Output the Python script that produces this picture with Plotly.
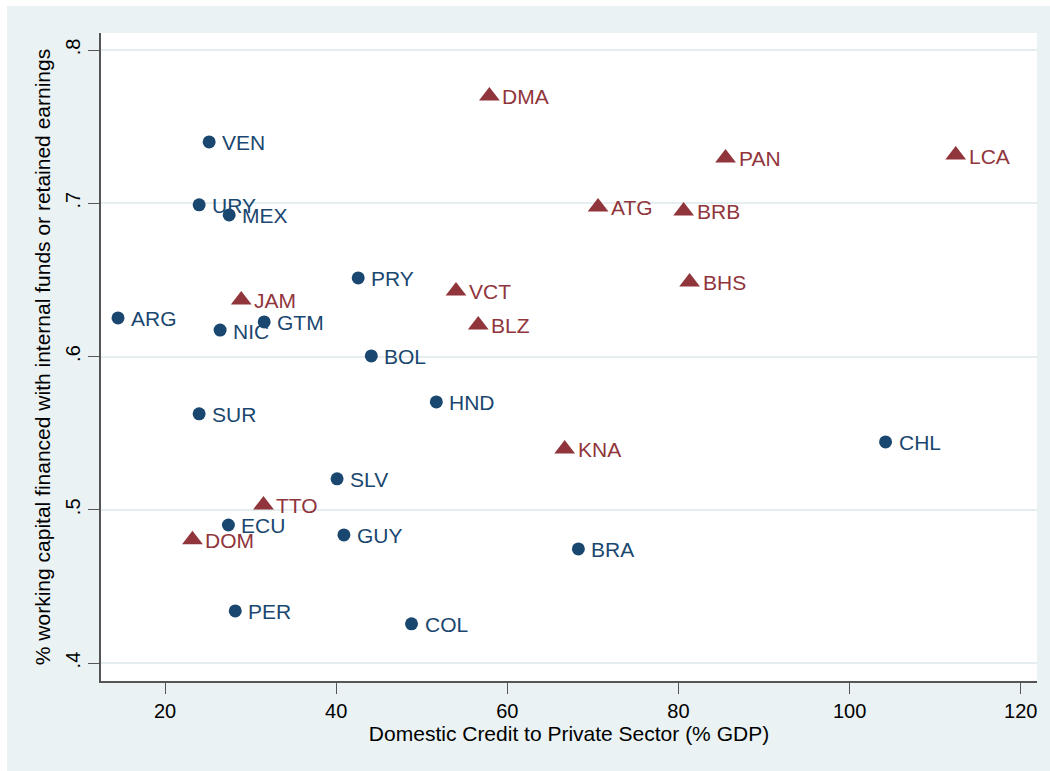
import plotly.graph_objects as go

# Blue group (circles)
blue_codes = ["VEN", "URY", "MEX", "ARG", "NIC", "GTM", "PRY", "BOL", "SUR",
              "HND", "CHL", "SLV", "ECU", "GUY", "BRA", "PER", "COL"]
blue_x = [25.15, 23.98, 27.49, 14.5, 26.43, 31.58, 42.57, 44.1, 23.98,
          51.7, 104.2, 40.1, 27.4, 40.9, 68.3, 28.2, 48.8]
blue_y = [0.740, 0.699, 0.6924, 0.6252, 0.6173, 0.6226, 0.6513, 0.6004, 0.5626,
          0.5704, 0.5443, 0.5202, 0.4901, 0.4836, 0.4745, 0.434, 0.4256]

# Red group (triangles)
red_codes = ["DMA", "PAN", "LCA", "ATG", "BRB", "BHS", "VCT", "BLZ", "JAM",
             "KNA", "TTO", "DOM"]
red_x = [57.9, 85.5, 112.4, 70.6, 80.6, 81.3, 54.0, 56.6, 28.9,
         66.7, 31.5, 23.2]
red_y = [0.7700, 0.7296, 0.7315, 0.6976, 0.6950, 0.6487, 0.6428, 0.6206, 0.6369,
         0.5397, 0.5032, 0.4804]

x_ticks = [20, 40, 60, 80, 100, 120]
y_ticks = [0.4, 0.5, 0.6, 0.7, 0.8]
y_tick_labels = [".4", ".5", ".6", ".7", ".8"]

x_title = "Domestic Credit to Private Sector (% GDP)"
y_title = "% working capital financed with internal funds or retained earnings"

BLUE = "#1a476f"
RED = "#90353b"
BG = "#eaf2f3"
FONT = "Liberation Sans, Arial, sans-serif"

fig = go.Figure()
fig.add_trace(go.Scatter(x=blue_x, y=blue_y, mode="markers",
                         marker=dict(symbol="circle", size=13, color=BLUE),
                         showlegend=False, hoverinfo="skip"))
fig.add_trace(go.Scatter(x=red_x, y=red_y, mode="markers",
                         marker=dict(symbol="triangle-up", size=18, color=RED),
                         showlegend=False, hoverinfo="skip"))

annotations = []
for codes, xs, ys, col in [(blue_codes, blue_x, blue_y, BLUE), (red_codes, red_x, red_y, RED)]:
    for c, xv, yv in zip(codes, xs, ys):
        annotations.append(dict(x=xv, y=yv, xref="x", yref="y", text=c,
                                showarrow=False, xanchor="left", yanchor="middle",
                                xshift=11, yshift=-1,
                                font=dict(family=FONT, size=21, color=col)))

fig.update_layout(
    width=1050, height=771,
    margin=dict(l=101, r=13, t=33, b=90),
    paper_bgcolor="white",
    plot_bgcolor="white",
    font=dict(family=FONT, size=20, color="black"),
    annotations=annotations,
    shapes=[
        dict(type="rect", xref="paper", yref="paper",
             x0=(7 - 101) / 936, x1=(1070 - 101) / 936,
             y0=(681 - 790) / 648, y1=(681 - 6) / 648,
             fillcolor=BG, line=dict(width=0), layer="below"),
        dict(type="rect", xref="paper", yref="paper", x0=0, x1=1, y0=0, y1=1,
             fillcolor="white", line=dict(width=0), layer="below"),
    ],
)

fig.update_xaxes(
    range=[12.51, 121.9], tickvals=x_ticks, ticktext=[str(v) for v in x_ticks],
    showgrid=False, zeroline=False,
    showline=True, linecolor="#555555", linewidth=1.5,
    ticks="outside", ticklen=11, tickwidth=1.3, tickcolor="#555555",
    tickfont=dict(family=FONT, size=20, color="black"),
    title=dict(text=x_title, font=dict(family=FONT, size=21, color="black"), standoff=3),
)
fig.update_yaxes(
    range=[0.3883, 0.8111], tickvals=y_ticks, ticktext=y_tick_labels,
    tickangle=-90,
    showgrid=True, gridcolor="#e4edef", gridwidth=2, zeroline=False,
    showline=True, linecolor="#555555", linewidth=1.5,
    ticks="outside", ticklen=11, tickwidth=1.3, tickcolor="#555555",
    tickfont=dict(family=FONT, size=20, color="black"),
    title=dict(text=y_title, font=dict(family=FONT, size=21, color="black"), standoff=6),
)

fig.write_html("out.html", config={"displayModeBar": False},
               post_script="document.body.style.margin='0';document.body.style.overflow='hidden';")
